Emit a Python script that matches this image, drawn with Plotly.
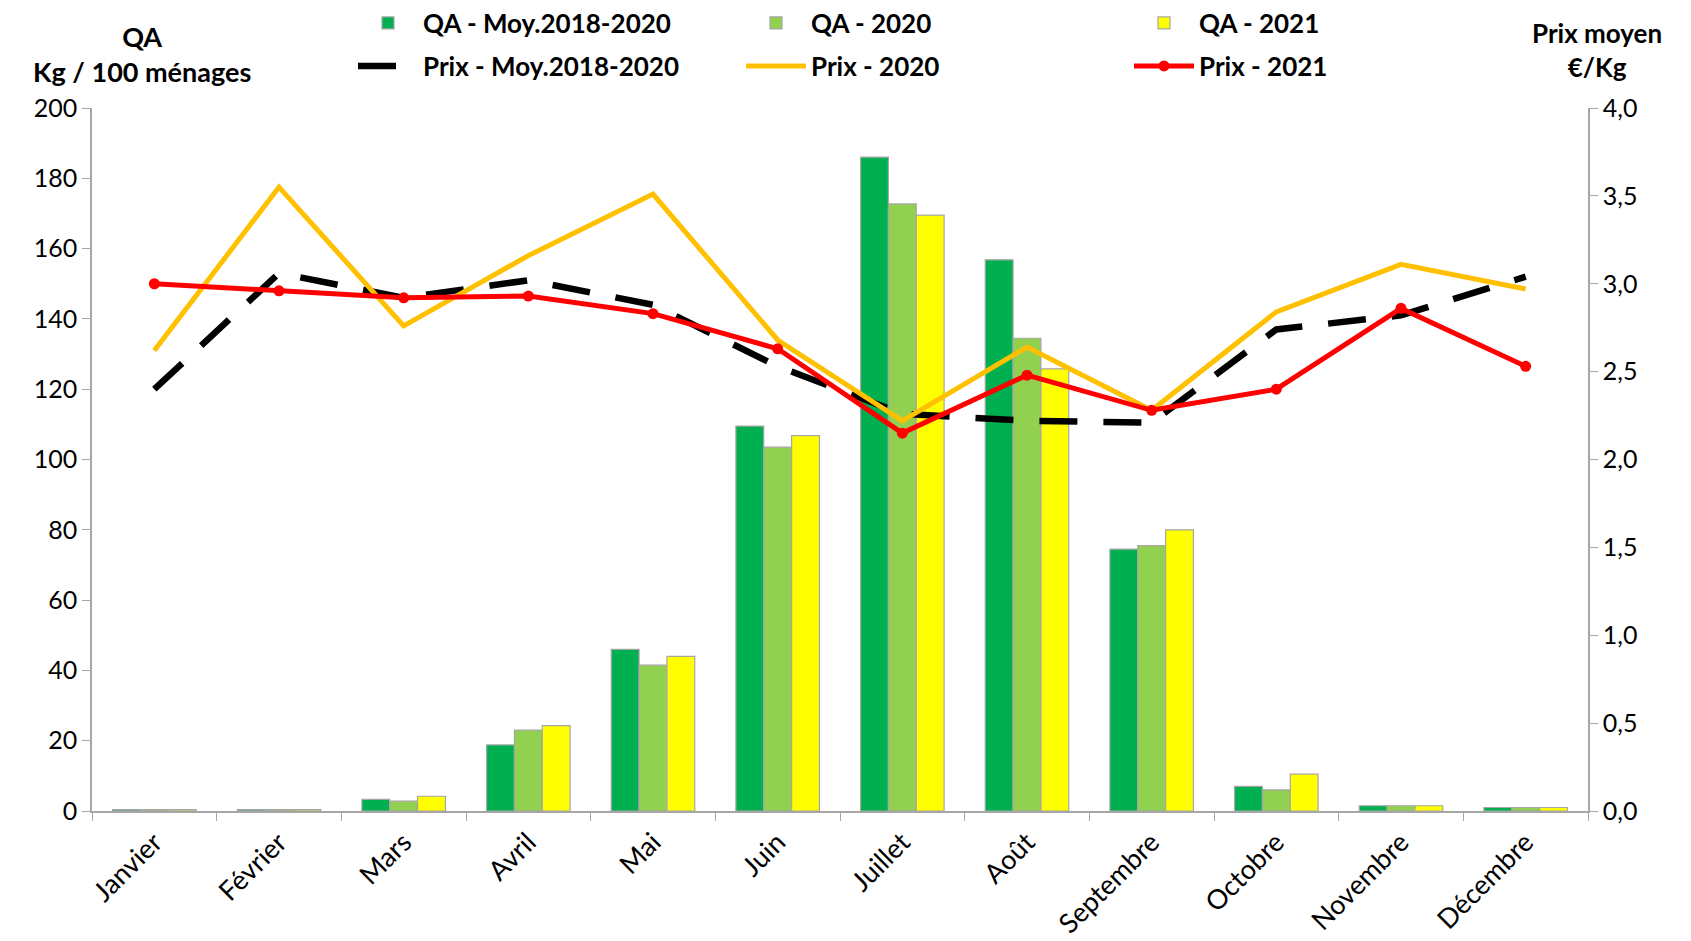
import plotly.graph_objects as go

# Months and values
mois = ["Janvier", "Février", "Mars", "Avril", "Mai", "Juin", "Juillet",
        "Août", "Septembre", "Octobre", "Novembre", "Décembre"]

qa_moy = [0.4, 0.4, 3.3, 18.8, 46.0, 109.5, 186.0, 156.8, 74.5, 7.0, 1.5, 1.0]
qa_2020 = [0.4, 0.4, 2.8, 23.0, 41.5, 103.5, 172.7, 134.5, 75.5, 6.0, 1.5, 1.0]
qa_2021 = [0.4, 0.4, 4.2, 24.3, 44.0, 106.8, 169.5, 125.8, 80.0, 10.5, 1.5, 1.0]

prix_moy = [2.40, 3.06, 2.92, 3.02, 2.88, 2.53, 2.26, 2.22, 2.21, 2.74, 2.82, 3.04]
prix_2020 = [2.62, 3.55, 2.76, 3.16, 3.51, 2.68, 2.22, 2.64, 2.28, 2.84, 3.11, 2.97]
prix_2021 = [3.00, 2.96, 2.92, 2.93, 2.83, 2.63, 2.15, 2.48, 2.28, 2.40, 2.86, 2.53]

FONT = "Lato, Open Sans, sans-serif"
GRIS = "#A6A6A6"

# plot area in px (page is offset by the 8px body margin)
L, R, T, B = 84, 111, 100, 138
PW, PH = 1691 - L - R, 941 - T - B

fig = go.Figure()

for name, vals, col in [("QA - Moy.2018-2020", qa_moy, "#00B050"),
                        ("QA - 2020", qa_2020, "#92D050"),
                        ("QA - 2021", qa_2021, "#FFFF00")]:
    fig.add_trace(go.Bar(x=mois, y=vals, name=name, legend="legend",
                         marker=dict(color=col, line=dict(color=GRIS, width=1.2))))

fig.add_trace(go.Scatter(x=mois, y=prix_moy, name="Prix - Moy.2018-2020", yaxis="y2",
                         legend="legend2", mode="lines",
                         line=dict(color="black", width=6.5, dash="38px,26px")))
fig.add_trace(go.Scatter(x=mois, y=prix_2020, name="Prix - 2020", yaxis="y2",
                         legend="legend2", mode="lines",
                         line=dict(color="#FFC000", width=5)))
fig.add_trace(go.Scatter(x=mois, y=prix_2021, name="Prix - 2021", yaxis="y2",
                         legend="legend2", mode="lines+markers",
                         line=dict(color="#FF0000", width=5),
                         marker=dict(color="#FF0000", size=11)))

legend_style = dict(orientation="h", xref="paper", yref="paper", x=(345 - L) / PW,
                    xanchor="left", yanchor="middle", entrywidth=313,
                    entrywidthmode="pixels", bgcolor="rgba(0,0,0,0)",
                    font=dict(family=FONT, size=26, color="black", weight="bold"),
                    traceorder="normal", itemwidth=60)

fig.update_layout(
    width=1691, height=941,
    margin=dict(l=L, r=R, t=T, b=B, autoexpand=False),
    plot_bgcolor="white", paper_bgcolor="white",
    separators=", ",
    font=dict(family=FONT, size=25, color="black"),
    barmode="group", bargap=0.33, bargroupgap=0,
    legend=dict(legend_style, y=1 + (T - 15) / PH),
    legend2=dict(legend_style, y=1 + (T - 58) / PH),
    xaxis=dict(type="category", range=[-0.5, len(mois) - 0.5], showline=True,
               linecolor=GRIS, linewidth=1.5, ticks="outside", tickson="boundaries",
               ticklen=8, tickcolor=GRIS, tickangle=-45, tickfont=dict(size=27),
               ticklabelstandoff=3, showgrid=False),
    yaxis=dict(range=[0, 200], dtick=20, showline=True, linecolor=GRIS, linewidth=1.5,
               ticks="outside", ticklen=8, tickcolor=GRIS, showgrid=False,
               zeroline=False, tickfont=dict(size=25)),
    yaxis2=dict(range=[0, 4], dtick=0.5, tickformat=".1f", overlaying="y", side="right",
                showline=True, linecolor=GRIS, linewidth=1.5, ticks="outside", ticklen=8,
                tickcolor=GRIS, showgrid=False, zeroline=False, tickfont=dict(size=25)),
    annotations=[
        dict(text="QA<br>Kg / 100 ménages", xref="paper", yref="paper",
             x=(134 - L) / PW, y=1 + (T - 46) / PH, xanchor="center",
             yanchor="middle", showarrow=False, align="center",
             font=dict(family=FONT, size=27, weight="bold")),
        dict(text="Prix moyen<br>€/Kg", xref="paper", yref="paper",
             x=(1589 - L) / PW, y=1 + (T - 42) / PH, xanchor="center",
             yanchor="middle", showarrow=False, align="center",
             font=dict(family=FONT, size=26, weight="bold")),
    ],
)

fig.write_html("out.html")
